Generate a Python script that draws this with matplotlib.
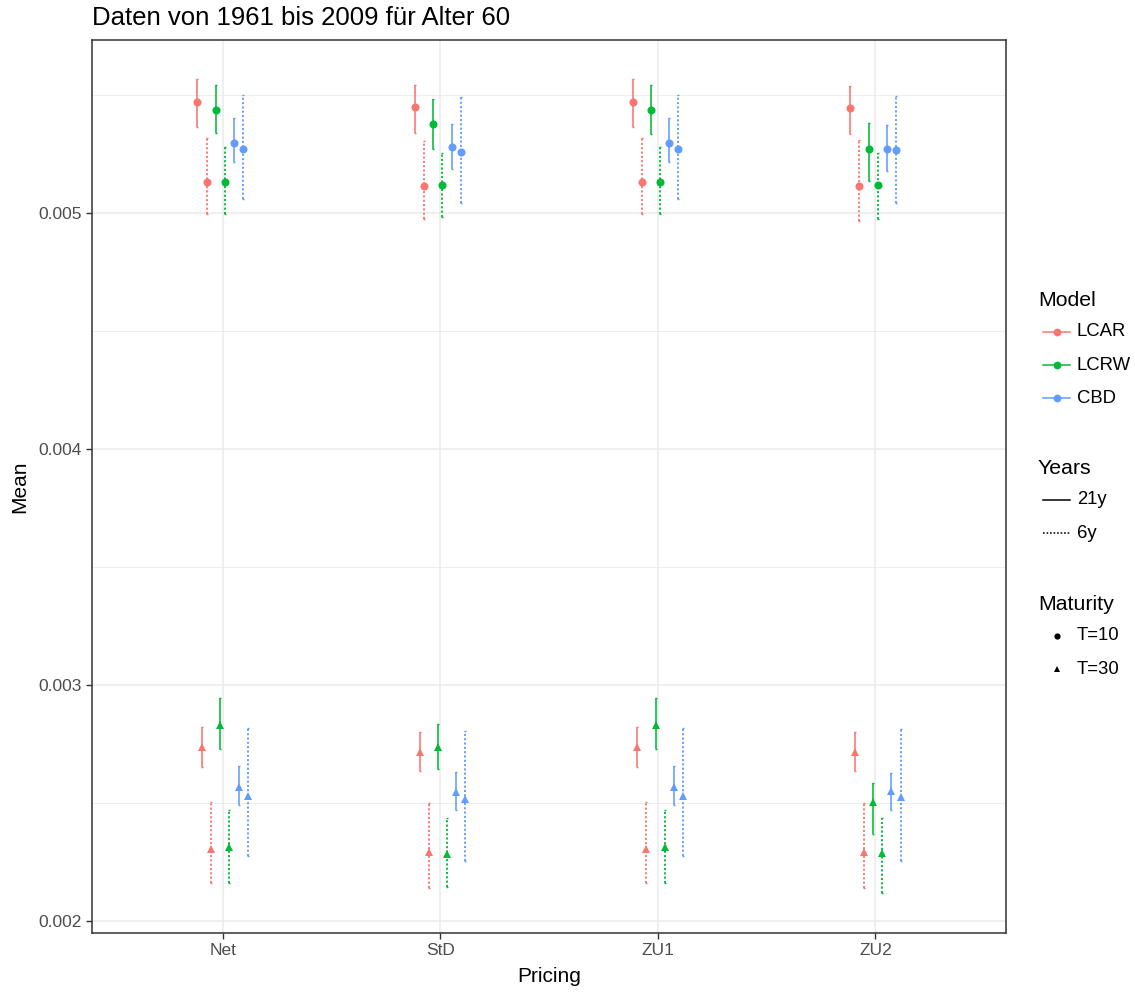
import matplotlib
matplotlib.use("Agg")
import matplotlib.pyplot as plt
from matplotlib.lines import Line2D
import numpy as np

plt.rcParams['font.family'] = ['Liberation Sans', 'DejaVu Sans']

# ---------------- data ----------------
categories = ["Net", "StD", "ZU1", "ZU2"]
models = ["LCAR", "LCRW", "CBD"]
years_labels = ["21y", "6y"]
maturity_labels = ["T=10", "T=30"]
model_colors = ["#F8766D", "#00BA38", "#619CFF"]

# T=10, 21y
lcar_21_t10_mean = [0.005473, 0.005452, 0.005473, 0.005445]
lcar_21_t10_lo = [0.005364, 0.005342, 0.005364, 0.005336]
lcar_21_t10_hi = [0.005568, 0.005544, 0.005568, 0.005539]
lcrw_21_t10_mean = [0.005438, 0.005378, 0.005438, 0.005274]
lcrw_21_t10_lo = [0.005339, 0.005271, 0.005336, 0.005138]
lcrw_21_t10_hi = [0.005544, 0.005483, 0.005544, 0.005384]
cbd_21_t10_mean = [0.005299, 0.005280, 0.005299, 0.005274]
cbd_21_t10_lo = [0.005219, 0.005186, 0.005219, 0.005181]
cbd_21_t10_hi = [0.005403, 0.005378, 0.005403, 0.005374]
# T=10, 6y
lcar_6_t10_mean = [0.005134, 0.005116, 0.005134, 0.005116]
lcar_6_t10_lo = [0.004997, 0.004975, 0.004997, 0.004969]
lcar_6_t10_hi = [0.005318, 0.005306, 0.005318, 0.005311]
lcrw_6_t10_mean = [0.005134, 0.005120, 0.005134, 0.005120]
lcrw_6_t10_lo = [0.004997, 0.004983, 0.004997, 0.004976]
lcrw_6_t10_hi = [0.005282, 0.005257, 0.005282, 0.005257]
cbd_6_t10_mean = [0.005274, 0.005261, 0.005274, 0.005268]
cbd_6_t10_lo = [0.005059, 0.005045, 0.005059, 0.005045]
cbd_6_t10_hi = [0.005501, 0.005492, 0.005501, 0.005497]
# T=30, 21y
lcar_21_t30_mean = [0.002740, 0.002715, 0.002740, 0.002715]
lcar_21_t30_lo = [0.002655, 0.002638, 0.002655, 0.002638]
lcar_21_t30_hi = [0.002825, 0.002800, 0.002825, 0.002800]
lcrw_21_t30_mean = [0.002832, 0.002740, 0.002832, 0.002507]
lcrw_21_t30_lo = [0.002730, 0.002644, 0.002730, 0.002370]
lcrw_21_t30_hi = [0.002945, 0.002836, 0.002945, 0.002585]
cbd_21_t30_mean = [0.002568, 0.002549, 0.002568, 0.002551]
cbd_21_t30_lo = [0.002493, 0.002472, 0.002493, 0.002472]
cbd_21_t30_hi = [0.002657, 0.002634, 0.002657, 0.002628]
# T=30, 6y
lcar_6_t30_mean = [0.002306, 0.002292, 0.002306, 0.002292]
lcar_6_t30_lo = [0.002162, 0.002141, 0.002162, 0.002141]
lcar_6_t30_hi = [0.002507, 0.002500, 0.002507, 0.002500]
lcrw_6_t30_mean = [0.002314, 0.002285, 0.002314, 0.002288]
lcrw_6_t30_lo = [0.002162, 0.002144, 0.002162, 0.002120]
lcrw_6_t30_hi = [0.002472, 0.002438, 0.002472, 0.002438]
cbd_6_t30_mean = [0.002530, 0.002518, 0.002530, 0.002525]
cbd_6_t30_lo = [0.002278, 0.002257, 0.002278, 0.002257]
cbd_6_t30_hi = [0.002818, 0.002806, 0.002818, 0.002814]

series = [
    # (model idx, years idx, maturity idx, mean, lo, hi)
    (0, 0, 0, lcar_21_t10_mean, lcar_21_t10_lo, lcar_21_t10_hi),
    (0, 0, 1, lcar_21_t30_mean, lcar_21_t30_lo, lcar_21_t30_hi),
    (0, 1, 0, lcar_6_t10_mean, lcar_6_t10_lo, lcar_6_t10_hi),
    (0, 1, 1, lcar_6_t30_mean, lcar_6_t30_lo, lcar_6_t30_hi),
    (1, 0, 0, lcrw_21_t10_mean, lcrw_21_t10_lo, lcrw_21_t10_hi),
    (1, 0, 1, lcrw_21_t30_mean, lcrw_21_t30_lo, lcrw_21_t30_hi),
    (1, 1, 0, lcrw_6_t10_mean, lcrw_6_t10_lo, lcrw_6_t10_hi),
    (1, 1, 1, lcrw_6_t30_mean, lcrw_6_t30_lo, lcrw_6_t30_hi),
    (2, 0, 0, cbd_21_t10_mean, cbd_21_t10_lo, cbd_21_t10_hi),
    (2, 0, 1, cbd_21_t30_mean, cbd_21_t30_lo, cbd_21_t30_hi),
    (2, 1, 0, cbd_6_t10_mean, cbd_6_t10_lo, cbd_6_t10_hi),
    (2, 1, 1, cbd_6_t30_mean, cbd_6_t30_lo, cbd_6_t30_hi),
]

# ---------------- figure ----------------
W, H = 1135, 994
fig = plt.figure(figsize=(W / 100, H / 100), dpi=100)
L, R, T, B = 92, 1006, 40, 933
ax = fig.add_axes([L / W, 1 - B / H, (R - L) / W, (B - T) / H])

x = np.arange(1, len(categories) + 1)
step = 0.0211
linestyles = ['-', (0, (1.1, 1.2))]
linewidths = [1.15, 1.35]
markers = ['o', '^']

for i, (m, yi, t, mean, lo, hi) in enumerate(series):
    xs = x + (i - 5.5) * step
    mean = np.array(mean)
    err = np.vstack([mean - np.array(lo), np.array(hi) - mean])
    eb = ax.errorbar(xs, mean, yerr=err, fmt='none', ecolor=model_colors[m],
                     elinewidth=linewidths[yi], capsize=0.8, capthick=1.0, zorder=2)
    for lc in eb[2]:
        lc.set_linestyle(linestyles[yi])
    ax.plot(xs, mean, linestyle='none', marker=markers[t],
            markersize=5.8 if t == 0 else 6.4, color=model_colors[m],
            markeredgewidth=0, zorder=3)

ax.set_xlim(0.4, 4.6)
ax.set_ylim(0.00195, 0.005734)
ax.set_xticks(x)
ax.set_xticklabels(categories)
ax.set_yticks([0.002, 0.003, 0.004, 0.005])
ax.set_yticklabels(["0.002", "0.003", "0.004", "0.005"])
ax.set_yticks([0.0025, 0.0035, 0.0045, 0.0055], minor=True)
ax.tick_params(axis='both', which='major', labelsize=12.5, labelcolor='#4D4D4D',
               color='#333333', length=4, width=1)
ax.tick_params(axis='y', which='minor', length=0)
ax.grid(True, which='major', color='#EBEBEB', linewidth=1.1, zorder=0)
ax.grid(True, which='minor', axis='y', color='#EBEBEB', linewidth=0.6, zorder=0)
ax.set_axisbelow(True)
for s in ax.spines.values():
    s.set_color('#333333')
    s.set_linewidth(1.1)

ax.set_xlabel("Pricing", fontsize=15, labelpad=6)
ax.set_ylabel("Mean", fontsize=15, labelpad=6)
fig.text(L / W, 1 - 18 / H, "Daten von 1961 bis 2009 für Alter 60",
         fontsize=18.5, ha='left', va='center')

# ---------------- legends (manual) ----------------
def fx(px):
    return px / W

def fy(py):
    return 1 - py / H

title_x = 1038
key_x0, key_x1, key_mid = 1043, 1070, 1056.5
text_x = 1077

def add_title(txt, yc):
    fig.text(fx(title_x), fy(yc), txt, fontsize=15.3, ha='left', va='center')

def add_label(txt, yc):
    fig.text(fx(text_x), fy(yc), txt, fontsize=13.3, ha='left', va='center')

add_title("Model", 300)
for k, (name, col) in enumerate(zip(models, model_colors)):
    yc = 332 + k * 33
    fig.add_artist(Line2D([fx(key_x0), fx(key_x1)], [fy(yc), fy(yc)],
                          transform=fig.transFigure, color=col, lw=1.1))
    fig.add_artist(Line2D([fx(key_mid)], [fy(yc)], transform=fig.transFigure,
                          color=col, marker='o', markersize=5.6, markeredgewidth=0))
    add_label(name, yc)

add_title("Years", 468)
for k, lab in enumerate(years_labels):
    yc = 500 + k * 33
    fig.add_artist(Line2D([fx(key_x0), fx(key_x1)], [fy(yc), fy(yc)],
                          transform=fig.transFigure, color='black', lw=1.1,
                          linestyle=linestyles[k]))
    add_label(lab, yc)

add_title("Maturity", 604)
for k, lab in enumerate(maturity_labels):
    yc = 636 + k * 33
    fig.add_artist(Line2D([fx(key_mid)], [fy(yc)], transform=fig.transFigure,
                          color='black', marker=markers[k],
                          markersize=4.5 if k == 0 else 5, markeredgewidth=0))
    add_label(lab, yc)

fig.savefig("out.png", dpi=100, facecolor='white')
